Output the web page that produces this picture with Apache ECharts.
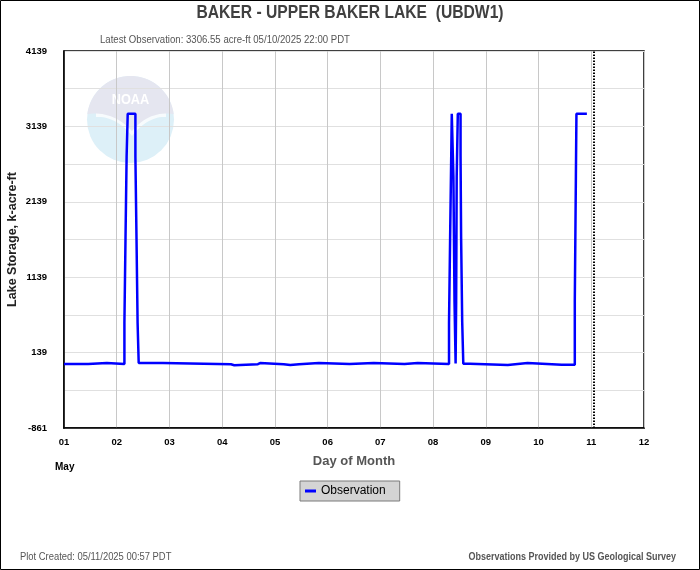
<!DOCTYPE html>
<html><head><meta charset="utf-8">
<script src="https://cdn.jsdelivr.net/npm/echarts@6/dist/echarts.min.js"></script>
<style>html,body{margin:0;padding:0;background:#fff}#c{width:700px;height:570px}</style>
</head><body><div id="c"></div>
<script>
const titleText = 'BAKER - UPPER BAKER LAKE  (UBDW1)';
const subtitleText = 'Latest Observation: 3306.55 acre-ft 05/10/2025 22:00 PDT';
const yAxisName = 'Lake Storage, k-acre-ft';
const xAxisName = 'Day of Month';
const monthLabel = 'May';
const seriesName = 'Observation';
const plotCreatedText = 'Plot Created: 05/11/2025 00:57 PDT';
const creditText = 'Observations Provided by US Geological Survey';
const plotCreatedTime = '2025-05-11T00:57:00';
const xMin = '2025-05-01T00:00:00';
const xMax = '2025-05-12T00:00:00';
const yMin = -861, yMax = 4139, yStep = 500, yLabelStep = 1000;

// level changes (value holds from this time until the next one)
const obsTimes = [
  '2025-05-01T00:00', '2025-05-01T11:00', '2025-05-01T19:30',
  '2025-05-02T03:30', '2025-05-02T04:00', '2025-05-02T04:30', '2025-05-02T05:00',
  '2025-05-02T08:30', '2025-05-02T09:00', '2025-05-02T09:30', '2025-05-02T10:00',
  '2025-05-02T21:00', '2025-05-04T04:00', '2025-05-04T05:30', '2025-05-04T16:15',
  '2025-05-04T17:15', '2025-05-05T04:00', '2025-05-05T07:00', '2025-05-05T11:00',
  '2025-05-05T20:00', '2025-05-06T10:00', '2025-05-06T21:00', '2025-05-07T11:00',
  '2025-05-07T17:00',
  '2025-05-08T07:15', '2025-05-08T07:45', '2025-05-08T08:15', '2025-05-08T08:30',
  '2025-05-08T09:15', '2025-05-08T09:45', '2025-05-08T10:15', '2025-05-08T10:30',
  '2025-05-08T10:45', '2025-05-08T11:15', '2025-05-08T12:30', '2025-05-08T12:45',
  '2025-05-08T13:15', '2025-05-08T13:45', '2025-05-08T16:45',
  '2025-05-09T10:00', '2025-05-09T19:00', '2025-05-10T10:30', '2025-05-10T11:00',
  '2025-05-10T16:30', '2025-05-10T17:00', '2025-05-10T17:15', '2025-05-10T22:00'
];
const obsValues = [
  -12, 1, -12,
  532, 1659, 2737, 3307,
  2737, 1659, 532, 1,
  -16, -28, -14, 0,
  -14, -25, -14, 1,
  -12, 1, -12, 1,
  -12,
  532, 1659, 2737, 3307,
  2472, 814, -5, 814,
  2472, 3307, 2760, 1676,
  549, -10, -25,
  1, -22, -10, -22,
  814, 2480, 3307, 3307
];

const F = "'Liberation Sans', Arial, sans-serif";

// NOAA watermark geometry helpers (decoration only)
const LC = [130.5, 119.5], LR = 43.5;
function arcPts(a0, a1, n) { const p = []; for (let i = 0; i <= n; i++) { const a = a0 + (a1 - a0) * i / n; p.push([LC[0] + LR * Math.cos(a), LC[1] + LR * Math.sin(a)]); } return p; }
function quadPts(p0, c, p1, n) { const p = []; for (let i = 0; i <= n; i++) { const t = i / n, u = 1 - t; p.push([u*u*p0[0] + 2*u*t*c[0] + t*t*p1[0], u*u*p0[1] + 2*u*t*c[1] + t*t*p1[1]]); } return p; }
const topArc = arcPts(Math.PI + 0.12, 2 * Math.PI - 0.12, 40);
const tR = topArc[topArc.length - 1], tL = topArc[0];
const lavender = topArc.concat(quadPts(tR, [150, 110], [132, 131], 16)).concat(quadPts([132, 131], [112, 110], tL, 16));
const whiteBand = quadPts([96, 117], [116, 116], [132, 136], 16).concat(quadPts([132, 136], [148, 116], [166, 117], 16))
  .concat([[166, 112], [132, 118], [96, 112]]);

const chart = echarts.init(document.getElementById('c'));
chart.setOption({
  backgroundColor: '#fff',
  animation: false,
  legend: {
    data: [seriesName], left: 300, top: 481,
    backgroundColor: '#d4d4d4', borderColor: '#7a7a7a', borderWidth: 1,
    padding: [4, 14, 4, 5], itemWidth: 11, itemHeight: 3, icon: 'rect', itemGap: 8,
    textStyle: {fontFamily: F, fontSize: 12, color: '#000'}
  },
  grid: {left: 64, right: 56, top: 51, bottom: 142, show: true, borderColor: '#000', borderWidth: 1.5,
    outerBoundsMode: 'none', containLabel: false},
  xAxis: {
    type: 'time', min: xMin, max: xMax, minInterval: 86400000, maxInterval: 86400000,
    axisLine: {onZero: false, lineStyle: {color: '#000', width: 1.5}}, axisTick: {show: false},
    axisLabel: {
      color: '#000', fontFamily: F, fontWeight: 'bold', fontSize: 9.5, margin: 9,
      showMinLabel: true, showMaxLabel: true,
      formatter: v => String(new Date(v).getDate()).padStart(2, '0')
    },
    splitLine: {show: true, lineStyle: {color: '#c8c8c8', width: 1}},
    name: xAxisName, nameLocation: 'middle', nameGap: 27, nameMoveOverlap: false,
    nameTextStyle: {fontFamily: F, fontSize: 13, fontWeight: 'bold', color: '#555'}
  },
  yAxis: {
    type: 'value', min: yMin, max: yMax, interval: yStep,
    axisLine: {show: true, onZero: false, lineStyle: {color: '#000', width: 1.5}}, axisTick: {show: false},
    axisLabel: {
      color: '#000', fontFamily: F, fontWeight: 'bold', fontSize: 9.5, margin: 17,
      formatter: v => { const r = Math.round(v); return ((r - yMin) % yLabelStep === 0) ? String(r) : ''; }
    },
    splitLine: {show: true, lineStyle: {color: '#e0e0e0', width: 1}},
    name: yAxisName, nameLocation: 'middle', nameGap: 45, nameMoveOverlap: false,
    nameTextStyle: {fontFamily: F, fontSize: 12.5, fontWeight: 'bold', color: '#222'}
  },
  series: [{
    name: seriesName, type: 'line', step: 'end', showSymbol: false, symbol: 'none',
    itemStyle: {color: '#0000ff'},
    lineStyle: {color: '#0000ff', width: 2.5},
    data: obsTimes.map((t, i) => [t, obsValues[i]]),
    markLine: {
      silent: true, symbol: 'none', label: {show: false},
      lineStyle: {color: '#000', type: [1.5, 1.5], width: 2},
      data: [{xAxis: plotCreatedTime}]
    }
  }],
  graphic: [
    {type: 'rect', z: 100, shape: {x: 0.5, y: 0.5, width: 699, height: 569}, style: {fill: 'none', stroke: '#000', lineWidth: 1}},
    {type: 'circle', z: -10, shape: {cx: LC[0], cy: LC[1], r: LR}, style: {fill: '#ddf0f8'}},
    {type: 'polygon', z: -9, shape: {points: whiteBand}, style: {fill: '#f7fbfd'}},
    {type: 'polygon', z: -8, shape: {points: lavender}, style: {fill: '#e5e6f0'}},
    {type: 'text', z: -7, x: 130.5, y: 100, scaleX: 0.85, style: {text: 'NOAA', x: 0, y: 0, align: 'center', verticalAlign: 'middle', fill: '#ffffff', font: "bold 15px " + F}},
    {type: 'text', x: 350, y: 13, scaleX: 0.87, style: {text: titleText, x: 0, y: 0, align: 'center', verticalAlign: 'middle', fill: '#404040', font: "bold 18px " + F}},
    {type: 'text', x: 100, y: 40, scaleX: 0.915, style: {text: subtitleText, x: 0, y: 0, verticalAlign: 'middle', fill: '#555', font: "10.5px " + F}},
    {type: 'text', x: 55, y: 467, style: {text: monthLabel, x: 0, y: 0, verticalAlign: 'middle', fill: '#000', font: "bold 10px " + F}},
    {type: 'text', x: 20, y: 557, scaleX: 0.94, style: {text: plotCreatedText, x: 0, y: 0, verticalAlign: 'middle', fill: '#555', font: "10px " + F}},
    {type: 'text', x: 676, y: 557, scaleX: 0.9, style: {text: creditText, x: 0, y: 0, align: 'right', verticalAlign: 'middle', fill: '#555', font: "bold 10px " + F}}
  ]
});
</script></body></html>
